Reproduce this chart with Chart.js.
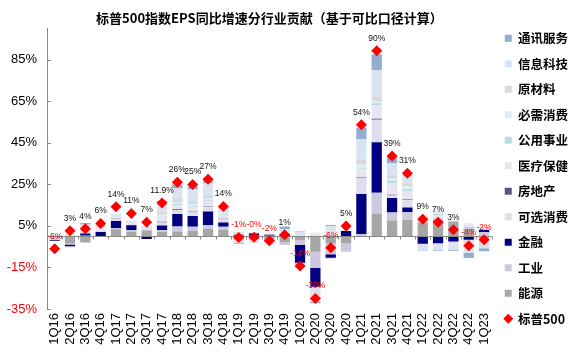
<!DOCTYPE html>
<html><head><meta charset="utf-8">
<script src="https://cdn.jsdelivr.net/npm/chart.js@4.4.0/dist/chart.umd.min.js"></script>
<style>html,body{margin:0;padding:0;background:#fff}#wrap{width:578px;height:357px;position:relative}</style>
</head><body><div id="wrap"><canvas id="c"></canvas></div>
<script>
const categories = ['1Q16','2Q16','3Q16','4Q16','1Q17','2Q17','3Q17','4Q17','1Q18','2Q18','3Q18','4Q18','1Q19','2Q19','3Q19','4Q19','1Q20','2Q20','3Q20','4Q20','1Q21','2Q21','3Q21','4Q21','1Q22','2Q22','3Q22','4Q22','1Q23'];

const energy      = [-0.6,-3.5,-3.0,0.1,3.4,2.2,2.5,2.2,2.3,2.6,3.5,3.0,-1.5,-1.5,-2.5,-3.0,-1.8,-7.4,-3.5,-3.3,0.3,11.0,7.6,7.9,6.6,7.9,7.1,3.5,-1.0];
const industrials = [-1.0,-0.5,0.3,-0.3,0.5,0.8,0.6,0.8,2.4,2.0,2.0,1.6,0.3,0.3,0.3,-1.2,-2.4,-7.7,-5.2,-4.1,0.8,10.0,3.9,3.7,0.7,0.8,0,1.0,2.0];
const financials  = [-0.6,-0.8,1.1,2.0,3.5,2.3,-1.3,2.2,6.0,5.2,6.5,2.1,0.5,1.0,0.5,1.0,-8.5,-9.2,-1.6,2.5,19.3,24.3,6.9,2.3,-3.6,-3.3,-2.5,-1.6,1.0];
const consDisc    = [0,-0.3,1.0,0.8,0.8,0.7,0.5,1.5,2.0,2.0,2.2,1.5,0,0,0,0,-2.5,-5.5,-0.5,0,7.5,10.8,1.3,3.7,-2.0,-1.6,-1.6,-3.3,-1.5];
const realEstate  = [0,0,0,0,0.2,0,0,0.3,0.3,0.3,0.3,0.3,0,0,0,0,0,-0.3,0,0,0.4,0.5,0.3,0.3,0,0,0,0,0];
const healthCare  = [0.4,0.8,1.2,0.8,0.6,0.6,0.5,2.0,2.0,2.0,2.5,1.8,0.8,0.8,0.7,0.8,0.5,1.3,1.3,0.3,4.0,6.5,5.6,3.7,1.5,1.5,0.5,1.3,1.5];
const utilities   = [0,0.2,0,0,0,0,0,0.4,0.5,0.4,0.4,0.3,0.3,0,0,0,0,-0.3,0,0,0.5,1.0,1.0,1.0,0.3,0.5,0,0,0];
const consStaples = [0,0.5,0.3,0.3,0,0,0,1.0,1.0,1.0,1.0,0.5,0,0,0,0.3,0,0.5,0.5,0,2.0,1.0,1.5,1.4,0.6,0.8,0.3,0.5,0];
const materials   = [0,0,0.3,0,0,0,0,1.5,1.5,1.5,1.5,0.3,-0.6,-0.4,-0.4,0,0,-0.5,0,0,2.0,2.0,1.5,1.6,0.3,0.4,0,0,-1.5];
const infoTech    = [0.3,-0.3,1.5,1.2,1.2,0.9,0.9,4.5,5.0,5.5,5.5,2.0,-1.0,-1.3,-1.2,1.4,1.5,-0.5,3.0,0.5,10.0,13.0,5.5,3.2,-1.2,-1.8,-2.2,-3.0,-1.7];
const commServ    = [0,0,0.7,0.3,0.2,0,0,0.6,2.0,1.5,1.5,0.3,-0.5,0,0,1.2,0.3,-0.8,0.7,0,5.5,7.5,3.2,0.6,-0.3,-0.4,-0.6,-2.5,-1.5];

const sp500       = [-6,2.7,3.6,6.2,14.2,11,6.8,16,26,25,27.5,14.3,-0.6,-0.4,-2.2,0.7,-14.3,-30,-5.5,5,53.7,89.3,38.7,30.4,8.2,6.8,3.1,-4.5,-1.7];
const sp500Labels = ['-6%','3%','4%','6%','14%','11%','7%','11.9%','26%','25%','27%','14%','-1%','-0%','-2%','1%','-14%','-30%','-6%','5%','54%','90%','39%','31%','9%','7%','3%','-4%','-2%'];

const yTicks = [-35,-15,5,25,45,65,85];

const sectorNames  = ['能源','工业','金融','可选消费','房地产','医疗保健','公用事业','必需消费','原材料','信息科技','通讯服务'];
const sectorValues = [energy,industrials,financials,consDisc,realEstate,healthCare,utilities,consStaples,materials,infoTech,commServ];
const sectorColors = ['#A6A6A6','#CCC8DE','#000080','#E0DDEC','#5E5382','#E6E5F0','#B5DBE5','#DCEDF3','#D9D9D9','#DAE4F1','#93ADD1'];

const datasets = [{
  type:'line', label:'标普500', data: sp500, stack:'sp',
  showLine:false, pointStyle:'rectRot', pointRadius:5.5, pointHoverRadius:5.5,
  backgroundColor:'#FF0000', borderColor:'#FF0000', pointBorderWidth:0
}];
sectorNames.forEach((n,i)=>datasets.push({
  type:'bar', label:n, data: sectorValues[i], stack:'s',
  backgroundColor: sectorColors[i], borderWidth:0,
  barPercentage:0.67, categoryPercentage:1
}));

const overlay = {
  id:'overlay',
  beforeDatasetDraw(chart, args){
    if (args.index !== 0) return;
    const {ctx, chartArea, scales:{x, y}} = chart;
    const y0 = Math.round(y.getPixelForValue(0)) + 0.5;
    const step = x.getPixelForValue(1) - x.getPixelForValue(0);
    ctx.save();
    ctx.strokeStyle = '#8A8A8A'; ctx.lineWidth = 1;
    ctx.beginPath();
    ctx.moveTo(chartArea.left, y0); ctx.lineTo(chartArea.right, y0);
    for (let i = 0; i <= categories.length; i++) {
      const xb = Math.round(x.getPixelForValue(i) - step/2) + 0.5;
      ctx.moveTo(xb, y0); ctx.lineTo(xb, y0 + 3);
    }
    yTicks.forEach(v => {
      const py = Math.round(y.getPixelForValue(v)) + 0.5;
      ctx.moveTo(chartArea.left, py); ctx.lineTo(chartArea.left + 4, py);
    });
    ctx.stroke();
    ctx.restore();
  },
  afterDatasetsDraw(chart){
    const {ctx} = chart;
    const meta = chart.getDatasetMeta(0);
    ctx.save();
    ctx.font = '8.5px "Liberation Sans", Arial, sans-serif';
    ctx.textAlign = 'center'; ctx.textBaseline = 'middle';
    meta.data.forEach((pt, i) => {
      ctx.fillStyle = sp500[i] < 0 ? '#FF0000' : '#111111';
      ctx.fillText(sp500Labels[i], pt.x, pt.y - 12.5);
    });
    ctx.restore();
  }
};

Chart.defaults.font.family = '"Liberation Sans", Arial, sans-serif';

new Chart(document.getElementById('c'), {
  data: { labels: categories, datasets },
  plugins: [overlay],
  options: {
    responsive:true, maintainAspectRatio:false, animation:false,
    layout:{ padding:0 },
    plugins:{
      tooltip:{ enabled:false },
      title:{
        display:true, text:'标普500指数EPS同比增速分行业贡献（基于可比口径计算）',
        fullSize:false, color:'#000',
        font:{ family:'"Noto Sans CJK SC"', size:13, weight:'bold' },
        padding:{ top:10, bottom:3 }
      },
      legend:{
        position:'right', reverse:true,
        labels:{
          usePointStyle:true, boxWidth:7, boxHeight:7, padding:13, color:'#000',
          font:{ family:'"Noto Sans CJK SC"', size:12.5, weight:'bold' },
          generateLabels(chart){
            return Chart.defaults.plugins.legend.labels.generateLabels(chart).map(l => {
              l.pointStyle = l.datasetIndex === 0 ? 'rectRot' : 'rect';
              l.lineWidth = 0;
              return l;
            });
          }
        }
      }
    },
    scales:{
      x:{
        stacked:true,
        grid:{ display:false, drawTicks:false },
        border:{ display:false },
        ticks:{ autoSkip:false, minRotation:90, maxRotation:90, padding:4, color:'#000', font:{ size:13 } },
        afterFit(s){ s.height = 48; }
      },
      y:{
        stacked:true, min:-35, max:100,
        grid:{ display:false, drawTicks:false },
        border:{ display:true, color:'#8A8A8A', width:1 },
        afterBuildTicks(s){ s.ticks = yTicks.map(v => ({ value:v })); },
        ticks:{
          padding:10, font:{ size:13 },
          color:(c) => (c.tick && c.tick.value < 0) ? '#FF0000' : '#000',
          callback:(v) => v + '%'
        },
        afterFit(s){ s.width = 47; }
      }
    }
  }
});
</script>
</body></html>
